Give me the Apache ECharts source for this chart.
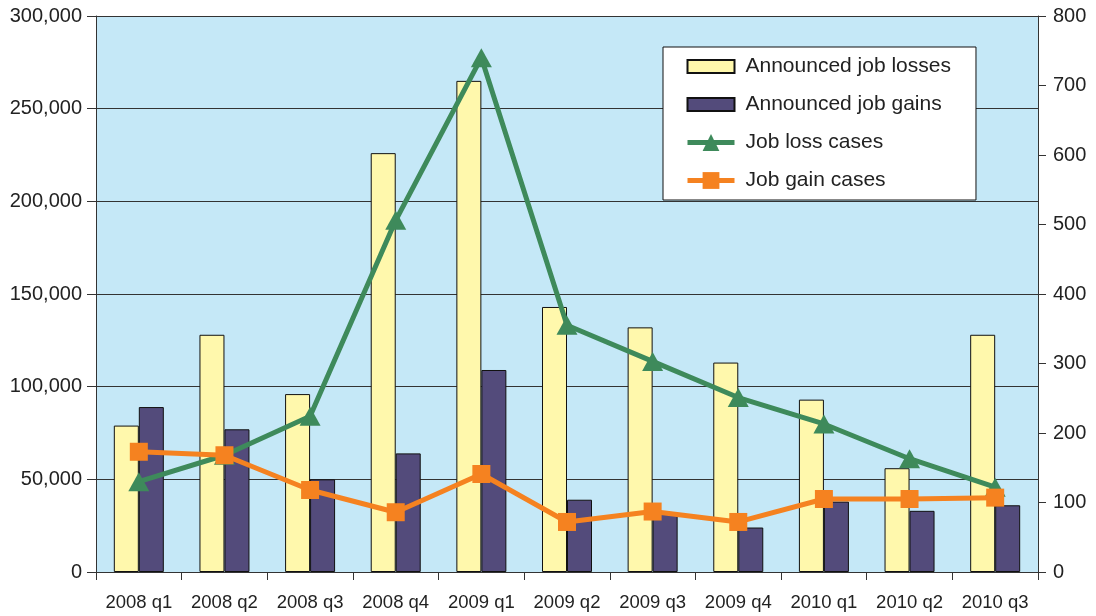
<!DOCTYPE html>
<html>
<head>
<meta charset="utf-8">
<script src="https://cdn.jsdelivr.net/npm/echarts@6/dist/echarts.min.js"></script>
<style>html,body{margin:0;padding:0;background:#fff}#c{width:1096px;height:616px}</style>
</head>
<body>
<div id="c"></div>
<script>
const categories = ['2008 q1','2008 q2','2008 q3','2008 q4','2009 q1','2009 q2','2009 q3','2009 q4','2010 q1','2010 q2','2010 q3'];
const jobLosses = [79000, 128000, 96000, 226000, 265000, 143000, 132000, 113000, 93000, 56000, 128000];
const jobGains = [89000, 77000, 50000, 64000, 109000, 39000, 32000, 24000, 38000, 33000, 36000];
const jobLossCases = [130, 168, 224, 506, 740, 355, 303, 251, 213, 163, 122];
const jobGainCases = [173, 168, 118, 86, 141, 72, 87, 72, 105, 105, 107];
const leftTicks = [0, 50000, 100000, 150000, 200000, 250000, 300000];
const rightTicks = [0, 100, 200, 300, 400, 500, 600, 700, 800];

const FONT = 'Liberation Sans, Arial, sans-serif';
const TXT = '#222';
const RECT_ICON = 'path://M0,0L47,0L47,13L0,13Z';
const chart = echarts.init(document.getElementById('c'));
chart.setOption({
  animation: false,
  textStyle: { fontFamily: FONT },
  grid: { left: 96, right: 58, top: 16, bottom: 44, show: true, backgroundColor: '#C5E8F7', borderWidth: 0 },
  legend: {
    orient: 'vertical', left: 663, top: 47,
    padding: [9, 25, 9, 22],
    backgroundColor: '#fff', borderColor: '#111', borderWidth: 1, borderRadius: 0,
    itemWidth: 47, itemHeight: 21, itemGap: 17,
    textStyle: { fontFamily: FONT, fontSize: 21, color: TXT, padding: [0, 0, 0, 6], lineHeight: 21 },
    data: [
      { name: 'Announced job losses', icon: RECT_ICON },
      { name: 'Announced job gains', icon: RECT_ICON },
      { name: 'Job loss cases', lineStyle: { width: 5 } },
      { name: 'Job gain cases', lineStyle: { width: 5 } }
    ]
  },
  xAxis: {
    type: 'category', data: categories,
    axisLine: { lineStyle: { color: '#333', width: 1 } },
    axisTick: { show: true, length: 8, interval: 0, lineStyle: { color: '#333' } },
    axisLabel: { fontSize: 18.5, color: TXT, margin: 21, fontFamily: FONT, interval: 0, hideOverlap: false },
    splitLine: { show: false }
  },
  yAxis: [
    {
      type: 'value', min: 0, max: 300000, interval: 50000, position: 'left',
      axisLine: { show: true, lineStyle: { color: '#333' } },
      axisTick: { show: true, length: 9, lineStyle: { color: '#333' } },
      axisLabel: { fontSize: 20, color: TXT, margin: 14, fontFamily: FONT,
        formatter: v => leftTicks.includes(v) ? v.toLocaleString('en-US') : '' },
      splitLine: { show: true, lineStyle: { color: '#333', width: 1 } }
    },
    {
      type: 'value', min: 0, max: 800, interval: 100, position: 'right',
      axisLine: { show: true, lineStyle: { color: '#333' } },
      axisTick: { show: true, length: 8, lineStyle: { color: '#333' } },
      axisLabel: { fontSize: 20, color: TXT, margin: 15, fontFamily: FONT,
        formatter: v => rightTicks.includes(v) ? String(v) : '' },
      splitLine: { show: false }
    }
  ],
  series: [
    {
      name: 'Announced job losses', type: 'bar', data: jobLosses, yAxisIndex: 0,
      barWidth: 25, barGap: '0%',
      itemStyle: { color: '#FFF8AC', borderColor: '#111', borderWidth: 1 }
    },
    {
      name: 'Announced job gains', type: 'bar', data: jobGains, yAxisIndex: 0,
      barWidth: 25, barGap: '0%',
      itemStyle: { color: '#534B7B', borderColor: '#111', borderWidth: 1 }
    },
    {
      name: 'Job loss cases', type: 'line', data: jobLossCases, yAxisIndex: 1,
      symbol: 'triangle', symbolSize: [21, 19],
      lineStyle: { color: '#3E8A5B', width: 5 },
      itemStyle: { color: '#3E8A5B' }, z: 5
    },
    {
      name: 'Job gain cases', type: 'line', data: jobGainCases, yAxisIndex: 1,
      symbol: 'rect', symbolSize: 18,
      lineStyle: { color: '#F58220', width: 5 },
      itemStyle: { color: '#F58220' }, z: 6
    }
  ]
});
</script>
</body>
</html>
